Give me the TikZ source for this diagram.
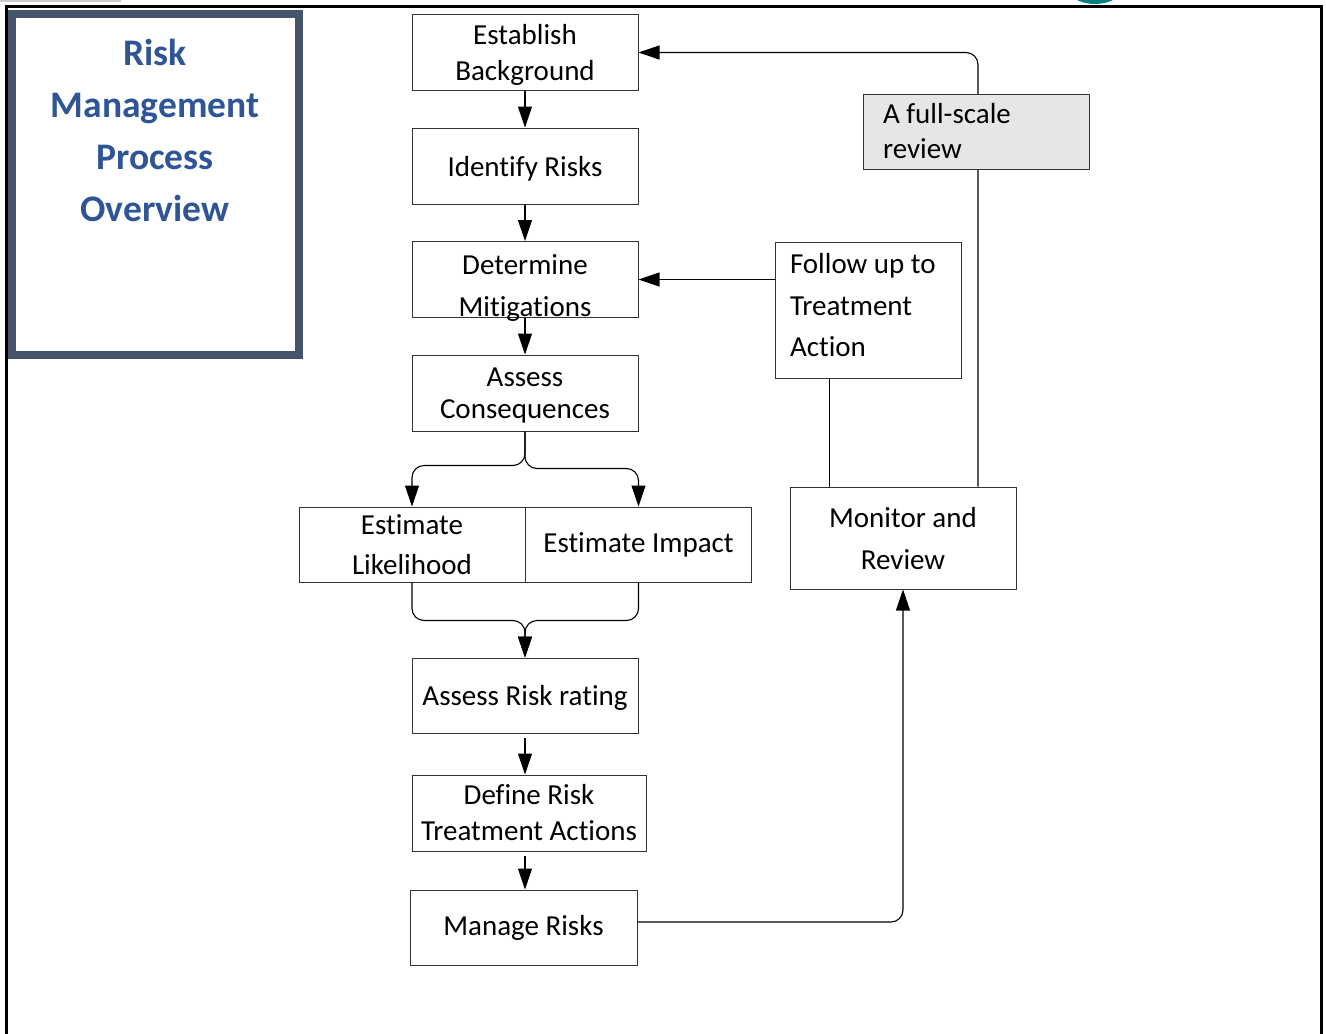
\documentclass[tikz,border=0pt]{standalone}
\usepackage{fontspec}
\setmainfont{Carlito}[Ligatures={NoCommon}]
\usetikzlibrary{arrows.meta}
\definecolor{titleblue}{RGB}{47,85,151}
\definecolor{slate}{RGB}{68,84,106}
\definecolor{tealc}{RGB}{0,128,128}
\definecolor{boxgray}{RGB}{230,230,230}
\begin{document}
\begin{tikzpicture}[x=1pt,y=-1pt,
  box/.style={draw=black!80, line width=1pt, inner sep=0pt, minimum width=226pt, minimum height=76pt, align=center, font=\fontsize{29}{36}\selectfont},
  conn/.style={draw=black, line width=1.1pt},
  arrow/.style={conn, -{Triangle[length=21pt,width=14pt]}},
]
\useasboundingbox (0,0) rectangle (1326,1034);
\fill[white] (0,0) rectangle (1326,1034);
\begin{scope}
  \clip (0,0) rectangle (1326,1034);
  \fill[tealc] (1095,-38.5) circle (42.5pt);
  \fill[black!20] (0,0) rectangle (121,2);
  \draw[black, line width=3pt] (6.5,1040) -- (6.5,6.5) -- (1321.5,6.5) -- (1321.5,1040);
\end{scope}

% title box
\node[draw=slate, line width=8pt, fill=white, minimum width=287pt, minimum height=341pt, inner sep=0pt] (tbox) at (155.5,184.5) {};
\node[text=titleblue, align=center, font=\fontsize{37.5}{52}\bfseries\selectfont] (ttl) at (155,130) {Risk\\Management\\Process\\Overview};

% main column
\node[box, text depth=0pt] (eb) at (525,52.5) {Establish\\Background};
\node[box, text depth=0pt] (ir) at (525,166) {Identify Risks};
\node[box] (dm) at (525,279.5) {};
\node[align=center, inner sep=0pt, font=\fontsize{29}{42}\selectfont] (dmt) at (525,288) {Determine\\Mitigations};
\node[box, text depth=-10pt, font=\fontsize{29}{32}\selectfont] (ac) at (525,393) {Assess\\Consequences};
\node[box, minimum height=75pt, font=\fontsize{29}{40}\selectfont] (el) at (412,544.5) {Estimate\\Likelihood};
\node[box, minimum height=75pt] (ei) at (638.5,544.5) {Estimate Impact};
\node[box, minimum height=75pt, text depth=0pt] (ars) at (525,695.5) {Assess Risk rating};
\node[box, minimum width=234pt] (drta) at (529,813) {Define Risk\\Treatment Actions};
\node[box, minimum width=227pt, minimum height=75pt] (mr) at (523.5,927.5) {Manage Risks};

% right side
\node[box, minimum width=186pt, minimum height=136pt, text width=156pt, align=flush left, text depth=93pt, font=\fontsize{29}{41.5}\selectfont] (fu) at (868,310) {Follow up to\\Treatment\\Action};
\node[box, minimum height=102pt, text depth=-6pt, font=\fontsize{29}{42}\selectfont] (mon) at (903,538) {Monitor and\\Review};

% connectors
\draw[arrow] (eb) -- (ir);
\draw[arrow] (ir) -- (dm);
\draw[arrow] (dm) -- (ac);
\draw[arrow, rounded corners=12pt] (ac.south) -- ++(0,34) -| (el.north);
\draw[arrow, rounded corners=12pt] (ac.south) -- ++(0,37) -| (ei.north);
\draw[arrow, rounded corners=12pt] (el.south) -- ++(0,38) -| (ars.north);
\draw[arrow, rounded corners=12pt] (ei.south) -- ++(0,38) -| (ars.north);
\draw[arrow, shorten <=4pt] (ars.south) -- (ars.south |- drta.north);
\draw[arrow, shorten <=4pt] (drta.south -| ars.south) -- (mr.north -| ars.south);
\draw[arrow, rounded corners=12pt] ([yshift=5.5pt]mr.east) -| (mon.south);
\draw[arrow] (fu.west |- dm.east) -- (dm.east);
\draw[conn, line width=1pt] ([xshift=-74pt]mon.north) -- ([xshift=-74pt]mon.north |- fu.south);
\draw[arrow, rounded corners=12pt] ([xshift=75pt]mon.north) |- (eb.east);

\node[box, fill=boxgray, minimum height=75pt, text width=186pt, align=flush left, font=\fontsize{29}{35}\selectfont] (fsr) at (976,131.5) {A full-scale\\review};
\end{tikzpicture}
\end{document}
